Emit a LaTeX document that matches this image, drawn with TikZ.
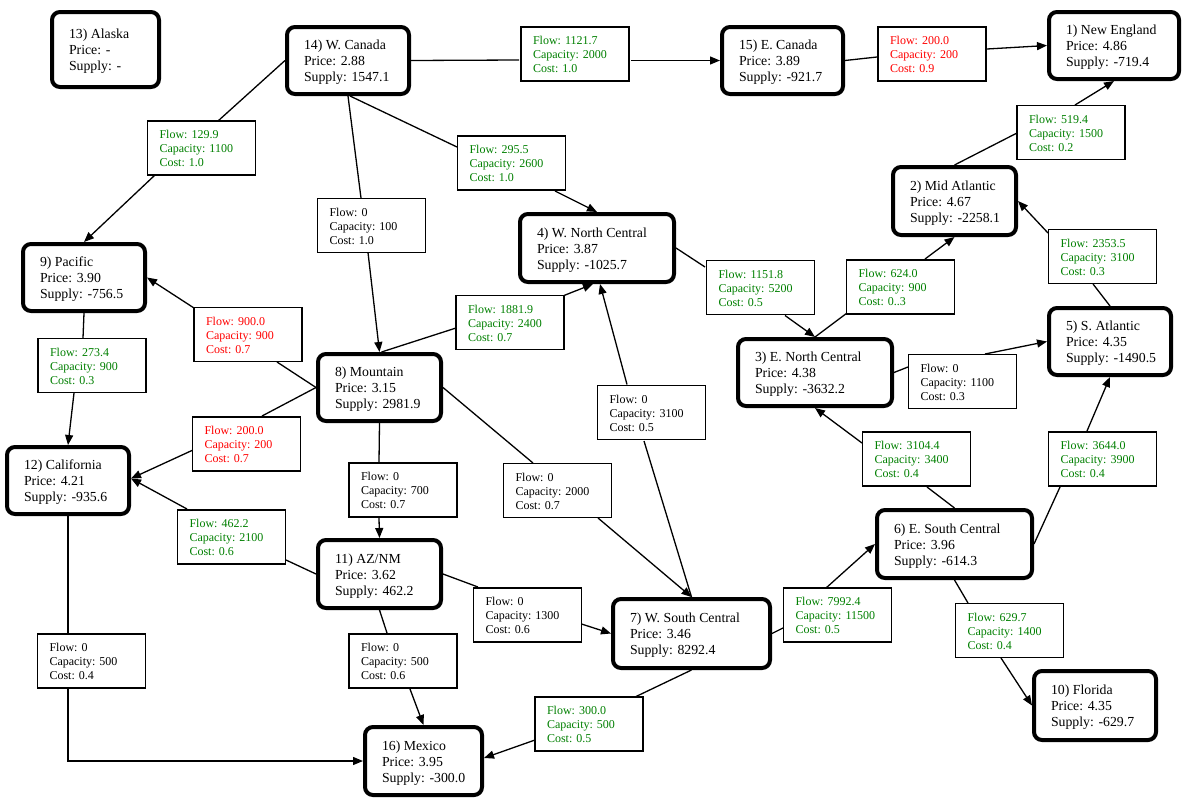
\documentclass[tikz,border=0pt]{standalone}
\usepackage{fontspec}
\setmainfont{Liberation Serif}
\usetikzlibrary{arrows.meta,calc,backgrounds}
\pgfdeclarelayer{paper}
\pgfsetlayers{paper,background,main}
\definecolor{fg}{RGB}{0,128,0}
\definecolor{fr}{RGB}{255,0,0}
\tikzset{
  region/.style={draw, line width=4pt, rounded corners=8pt, fill=white, inner xsep=17pt, inner ysep=0pt, font=\fontsize{13.8}{16}\selectfont},
  lab/.style={draw, line width=1.3pt, fill=white, minimum width=108, minimum height=54, inner xsep=12pt, inner ysep=0pt, font=\fontsize{12}{14}\selectfont},
  ln/.style={line width=1.3pt},
  arr/.style={line width=1.3pt, -{Triangle[length=10pt,width=8pt]}}
}
\newcommand\regnode[7]{\node[region, minimum width=#3, minimum height=#4] (#1) at (#2) {\makebox[\dimexpr#3pt-34pt\relax][l]{\begin{tabular}{@{}l@{}}\rule{0pt}{14.8pt}#5\\#6\\#7\end{tabular}}};}
\newcommand\labnode[6]{\node[lab, text=#3] (#1) at (#2) {\makebox[84pt][l]{\begin{tabular}{@{}l@{}}\rule{0pt}{13.6pt}Flow: #4\\Capacity: #5\\Cost: #6\end{tabular}}};}
\begin{document}
\begin{tikzpicture}[x=1pt,y=-1pt]
\begin{pgfonlayer}{paper}
\fill[white] (0,0) rectangle (1183,798);
\end{pgfonlayer}
\useasboundingbox (0,0) rectangle (1183,798);
% regions
\regnode{n13}{105.5,49.5}{107}{75}{13) Alaska}{Price: -}{Supply: -}
\regnode{n14}{348,60.5}{122}{67}{14) W. Canada}{Price: 2.88}{Supply: 1547.1}
\regnode{n15}{782.5,60.5}{121}{67}{15) E. Canada}{Price: 3.89}{Supply: -921.7}
\regnode{n1}{1114,45.5}{130}{67}{1) New England}{Price: 4.86}{Supply: -719.4}
\regnode{n2}{954.5,201}{123}{68}{2) Mid Atlantic}{Price: 4.67}{Supply: -2258.1}
\regnode{n4}{597,248}{154}{68}{4) W. North Central}{Price: 3.87}{Supply: -1025.7}
\regnode{n9}{84,277.5}{122}{67}{9) Pacific}{Price: 3.90}{Supply: -756.5}
\regnode{n8}{379.5,387.5}{123}{67}{8) Mountain}{Price: 3.15}{Supply: 2981.9}
\regnode{n12}{68,480.5}{122}{67}{12) California}{Price: 4.21}{Supply: -935.6}
\regnode{n3}{815,372.5}{154}{67}{3) E. North Central}{Price: 4.38}{Supply: -3632.2}
\regnode{n5}{1110,341.5}{122}{67}{5) S. Atlantic}{Price: 4.35}{Supply: -1490.5}
\regnode{n6}{954.5,544}{155}{68}{6) E. South Central}{Price: 3.96}{Supply: -614.3}
\regnode{n11}{379.5,574}{123}{68}{11) AZ/NM}{Price: 3.62}{Supply: 462.2}
\regnode{n7}{691.5,633.5}{157}{69}{7) W. South Central}{Price: 3.46}{Supply: 8292.4}
\regnode{n16}{423.5,761}{117}{68}{16) Mexico}{Price: 3.95}{Supply: -300.0}
\regnode{n10}{1095,705.5}{122}{69}{10) Florida}{Price: 4.35}{Supply: -629.7}
% labels
\labnode{L1}{201.5,148}{fg}{129.9}{1100}{1.0}
\labnode{L2}{371.5,225.5}{black}{0}{100}{1.0}
\labnode{L3}{575,54}{fg}{1121.7}{2000}{1.0}
\labnode{L4}{511.5,163}{fg}{295.5}{2600}{1.0}
\labnode{L5}{932,54}{fr}{200.0}{200}{0.9}
\labnode{L6}{1071,132.5}{fg}{519.4}{1500}{0.2}
\labnode{L7}{900.5,287}{fg}{624.0}{900}{0..3}
\labnode{L8}{1102.5,256.5}{fg}{2353.5}{3100}{0.3}
\labnode{L9}{760.5,287.5}{fg}{1151.8}{5200}{0.5}
\labnode{L10}{510,322.5}{fg}{1881.9}{2400}{0.7}
\labnode{L11}{248,334.5}{fr}{900.0}{900}{0.7}
\labnode{L12}{92,365.5}{fg}{273.4}{900}{0.3}
\labnode{L13}{246.5,444}{fr}{200.0}{200}{0.7}
\labnode{L14}{403,490}{black}{0}{700}{0.7}
\labnode{L15}{231.5,537}{fg}{462.2}{2100}{0.6}
\labnode{L16}{91.5,661}{black}{0}{500}{0.4}
\labnode{L17}{403,661}{black}{0}{500}{0.6}
\labnode{L18}{557.5,490.5}{black}{0}{2000}{0.7}
\labnode{L19}{651.5,412.5}{black}{0}{3100}{0.5}
\labnode{L20}{527.5,615}{black}{0}{1300}{0.6}
\labnode{L21}{589,724}{fg}{300.0}{500}{0.5}
\labnode{L22}{837.5,615}{fg}{7992.4}{11500}{0.5}
\labnode{L23}{962.5,381.5}{black}{0}{1100}{0.3}
\labnode{L24}{916.5,459}{fg}{3104.4}{3400}{0.4}
\labnode{L25}{1102.5,459}{fg}{3644.0}{3900}{0.4}
\labnode{L26}{1009.5,630.5}{fg}{629.7}{1400}{0.4}
% edges
\begin{scope}[on background layer]
\draw[ln] (n14.west) -- ($(L1)+(16.5,-27)$);
\draw[arr] ($(L1)+(-46.5,27)$) -- (n9.north);
\draw[ln] (n14.south) -- ($(L2)+(-10.5,-27.5)$);
\draw[arr] ($(L2)+(-3.5,27)$) -- (n8.north);
\draw[ln] (n14.east) -- ($(L3)+(-56,6)$);
\draw[arr] ($(L3)+(56,6.5)$) -- (n15.west);
\draw[ln] ($(n14.south)+(2,0)$) -- ($(L4)+(-54.5,-16)$);
\draw[arr] ($(L4)+(43.5,28)$) -- (n4.north);
\draw[ln] (n15.east) -- ($(L5)+(-55,3)$);
\draw[arr] ($(L5)+(55,-5)$) -- (n1.west);
\draw[ln] (n2.north) -- ($(L6)+(-54,0.5)$);
\draw[arr] ($(L6)+(4,-27.5)$) -- (n1.south);
\draw[ln] (n3.north) -- ($(L7)+(-53.5,26)$);
\draw[arr] ($(L7)+(24.5,-28)$) -- (n2.south);
\draw[ln] (n5.north) -- ($(L8)+(-9.5,27.5)$);
\draw[arr] ($(L8)+(-54.5,-23.5)$) -- (n2.east);
\draw[ln] (n4.east) -- ($(L9)+(-55.5,-20.5)$);
\draw[arr] ($(L9)+(24.5,28)$) -- (n3.north);
\draw[ln] ($(n8.north)+(2,0)$) -- ($(L10)+(-54,5.5)$);
\draw[arr] ($(L10)+(54,-27)$) -- ($(n4.south)+(-4,0)$);
\draw[ln] (n8.west) -- ($(L11)+(29,27.5)$);
\draw[arr] ($(L11)+(-54,-26.5)$) -- (n9.east);
\draw[ln] (n9.south) -- ($(L12)+(-9,-27.5)$);
\draw[arr] ($(L12)+(-18,27.5)$) -- (n12.north);
\draw[ln] (n8.west) -- ($(L13)+(15.5,-28)$);
\draw[arr] ($(L13)+(-53.5,6)$) -- ($(n12.east)+(0,-2)$);
\draw[ln] (n8.south) -- ($(L14)+(-24,-28)$);
\draw[arr] ($(L14)+(-24,28)$) -- (n11.north);
\draw[ln] (n11.west) -- ($(L15)+(54.5,23)$);
\draw[arr] ($(L15)+(-44.5,-28)$) -- ($(n12.east)+(0,-2)$);
\draw[ln] (n12.south) -- ($(L16)+(-23.5,-28)$);
\draw[arr] ($(L16)+(-23.5,28)$) |- (n16.west);
\draw[ln] (n11.south) -- ($(L17)+(-16,-28)$);
\draw[arr] ($(L17)+(7,28)$) -- (n16.north);
\draw[ln] (n8.east) -- ($(L18)+(-24.5,-27.5)$);
\draw[arr] ($(L18)+(40.5,27.5)$) -- (n7.north);
\draw[ln] (n7.north) -- ($(L19)+(-7.5,28.5)$);
\draw[arr] ($(L19)+(-24.5,-28)$) -- ($(n4.south)+(3,0)$);
\draw[ln] (n11.east) -- ($(L20)+(-49.5,-28)$);
\draw[arr] ($(L20)+(54,9)$) -- (n7.west);
\draw[ln] (n7.south) -- ($(L21)+(46,-27)$);
\draw[arr] ($(L21)+(-54,16)$) -- ($(n16.east)+(0,-3)$);
\draw[ln] (n7.east) -- ($(L22)+(-54.5,13)$);
\draw[arr] ($(L22)+(-11.5,-27)$) -- (n6.west);
\draw[ln] (n3.east) -- ($(L23)+(-54.5,-14.5)$);
\draw[arr] ($(L23)+(22.5,-27.5)$) -- (n5.west);
\draw[ln] (n6.north) -- ($(L24)+(10.5,28)$);
\draw[arr] ($(L24)+(-54.5,-16)$) -- (n3.south);
\draw[ln] (n6.east) -- ($(L25)+(-42.5,28)$);
\draw[arr] ($(L25)+(-15.5,-28)$) -- (n5.south);
\draw[ln] (n6.south) -- ($(L26)+(-41.5,-27.5)$);
\draw[arr] ($(L26)+(-8.5,27.5)$) -- (n10.west);
\end{scope}
\end{tikzpicture}
\end{document}
